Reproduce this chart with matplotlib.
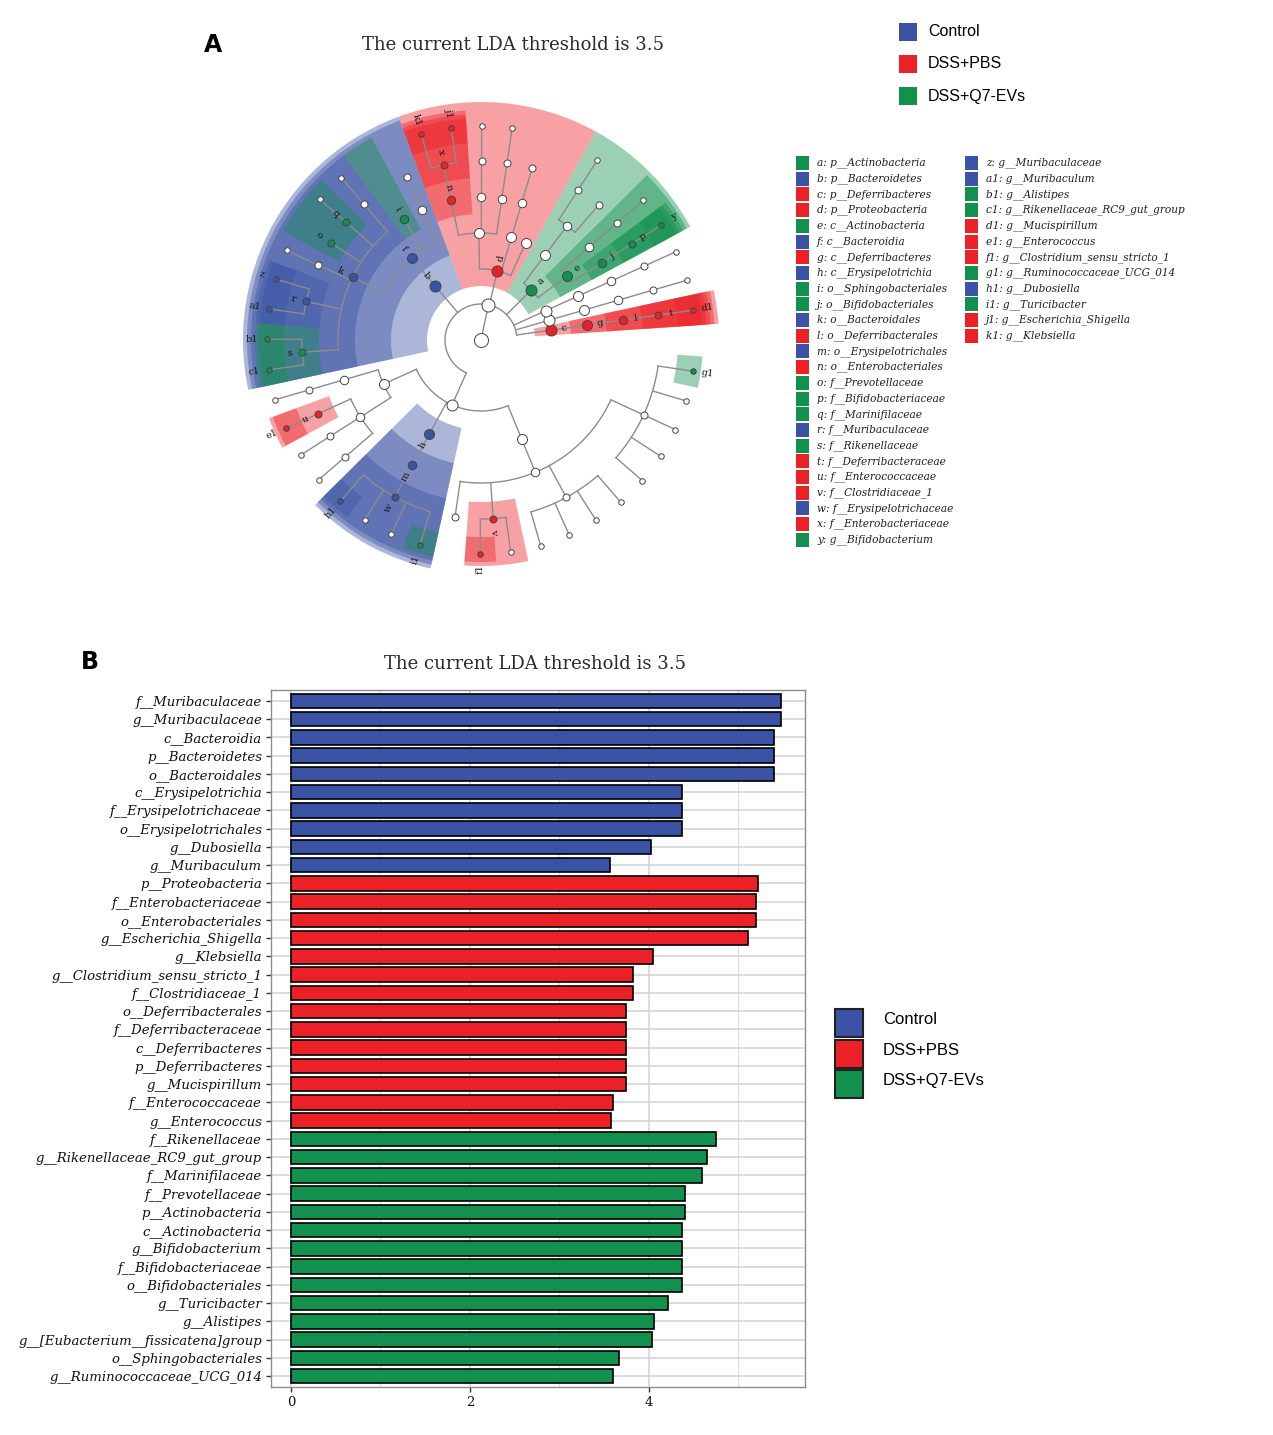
import numpy as np
import matplotlib.pyplot as plt
from matplotlib.patches import Wedge, Rectangle

W, H = 1273, 1435

group_names = ['Control', 'DSS+PBS', 'DSS+Q7-EVs']
group_colors = ['#3a53a4', '#ec2127', '#11904e']

# ---- panel B: LDA scores
bar_taxa = [
    'f__Muribaculaceae', 'g__Muribaculaceae', 'c__Bacteroidia', 'p__Bacteroidetes',
    'o__Bacteroidales', 'c__Erysipelotrichia', 'f__Erysipelotrichaceae',
    'o__Erysipelotrichales', 'g__Dubosiella', 'g__Muribaculum',
    'p__Proteobacteria', 'f__Enterobacteriaceae', 'o__Enterobacteriales',
    'g__Escherichia_Shigella', 'g__Klebsiella', 'g__Clostridium_sensu_stricto_1',
    'f__Clostridiaceae_1', 'o__Deferribacterales', 'f__Deferribacteraceae',
    'c__Deferribacteres', 'p__Deferribacteres', 'g__Mucispirillum',
    'f__Enterococcaceae', 'g__Enterococcus',
    'f__Rikenellaceae', 'g__Rikenellaceae_RC9_gut_group', 'f__Marinifilaceae',
    'f__Prevotellaceae', 'p__Actinobacteria', 'c__Actinobacteria',
    'g__Bifidobacterium', 'f__Bifidobacteriaceae', 'o__Bifidobacteriales',
    'g__Turicibacter', 'g__Alistipes', 'g__[Eubacterium__fissicatena]group',
    'o__Sphingobacteriales', 'g__Ruminococcaceae_UCG_014',
]
bar_lda = [5.48, 5.47, 5.40, 5.40, 5.40, 4.37, 4.37, 4.37, 4.02, 3.56,
           5.22, 5.19, 5.19, 5.11, 4.05, 3.82, 3.82, 3.74, 3.74, 3.74, 3.74, 3.74, 3.60, 3.58,
           4.75, 4.65, 4.59, 4.40, 4.40, 4.37, 4.37, 4.37, 4.37, 4.21, 4.06, 4.03, 3.66, 3.60]
bar_group = [0] * 10 + [1] * 14 + [2] * 14

# ---- panel A: cladogram key
clade_letters = ['a', 'b', 'c', 'd', 'e', 'f', 'g', 'h', 'i', 'j', 'k', 'l', 'm',
                 'n', 'o', 'p', 'q', 'r', 's', 't', 'u', 'v', 'w', 'x', 'y',
                 'z', 'a1', 'b1', 'c1', 'd1', 'e1', 'f1', 'g1', 'h1', 'i1', 'j1', 'k1']
clade_taxa = ['p__Actinobacteria', 'p__Bacteroidetes', 'p__Deferribacteres',
              'p__Proteobacteria', 'c__Actinobacteria', 'c__Bacteroidia',
              'c__Deferribacteres', 'c__Erysipelotrichia', 'o__Sphingobacteriales',
              'o__Bifidobacteriales', 'o__Bacteroidales', 'o__Deferribacterales',
              'o__Erysipelotrichales', 'o__Enterobacteriales', 'f__Prevotellaceae',
              'f__Bifidobacteriaceae', 'f__Marinifilaceae', 'f__Muribaculaceae',
              'f__Rikenellaceae', 'f__Deferribacteraceae', 'f__Enterococcaceae',
              'f__Clostridiaceae_1', 'f__Erysipelotrichaceae', 'f__Enterobacteriaceae',
              'g__Bifidobacterium', 'g__Muribaculaceae', 'g__Muribaculum',
              'g__Alistipes', 'g__Rikenellaceae_RC9_gut_group', 'g__Mucispirillum',
              'g__Enterococcus', 'g__Clostridium_sensu_stricto_1',
              'g__Ruminococcaceae_UCG_014', 'g__Dubosiella', 'g__Turicibacter',
              'g__Escherichia_Shigella', 'g__Klebsiella']
clade_group = [2, 0, 1, 1, 2, 0, 1, 0, 2, 2, 0, 1, 0, 1, 2, 2, 2, 0, 2, 1, 1, 1, 0, 1, 2,
               0, 0, 2, 2, 1, 1, 1, 2, 0, 2, 1, 1]

# tree per phylum: [letter, child, child, ...], '' = not discriminant
tree_deferribacteres = ['c', ['g', ['l', ['t', ['d1']]]]]
tree_other1 = ['', ['', ['', ['', ['']]]]]
tree_other2 = ['', ['', ['', ['', ['']]]]]
tree_actinobacteria = ['a',
                       ['e', ['j', ['p', ['y']]], ['', ['', ['']]]],
                       ['', ['', [''], ['', ['']]]]]
tree_proteobacteria = ['d',
                       [''],
                       ['', ['', ['']]],
                       ['', ['', ['', ['']]], ['', ['', ['']]],
                        ['n', ['x', ['j1'], ['k1']]]]]
tree_bacteroidetes = ['b',
                      ['f', ['', ['']], ['i'],
                       ['k', ['', ['']], ['q', ['']], ['o'], ['', ['']],
                        ['r', ['z'], ['a1']], ['s', ['b1'], ['c1']]]]]
tree_firmicutes = ['',
                   ['', ['', ['', ['']]],
                    ['', ['u', ['e1']], ['', ['']], ['', ['']]]],
                   ['h', ['m', ['w', ['h1'], [''], [''], ['i1']]]],
                   ['', ['', [''], ['v', ['f1'], ['']],
                         ['', [''], [''], [''], ['']],
                         ['', [''], [''], [''], [''], ['g1']]]]]

phyla = [tree_deferribacteres, tree_other1, tree_other2, tree_actinobacteria,
         tree_proteobacteria, tree_bacteroidetes, tree_firmicutes]

# ---- layout of the cladogram
START, STEP = 8.0, 360 / 44
RADII = [0, 36, 71, 107, 143, 179, 214]
nodes = []
links = []


def place(node, depth, slot):
    kids = node[1:]
    if not kids:
        ang = START + slot[0] * STEP
        slot[0] += 1
        lo = hi = ang
    else:
        res = [place(k, depth + 1, slot) for k in kids]
        angs = [r[0] for r in res]
        ang = float(np.mean(angs))
        lo, hi = res[0][1], res[-1][2]
        links.append((depth, angs))
    nodes.append((node[0], depth, ang, lo, hi))
    return ang, lo, hi


place(['', ['', *phyla]], 0, [0])


def fx(px):
    return px / W


def fy(py):
    return 1 - py / H


def polar(r, a):
    t = np.deg2rad(a)
    return r * np.cos(t), r * np.sin(t)


fig = plt.figure(figsize=(W / 100, H / 100), dpi=100)

# ================= panel A
axa = fig.add_axes([fx(481 - 250), fy(340 + 250), 500 / W, 500 / H])
axa.set_xlim(-250, 250)
axa.set_ylim(-250, 250)
axa.axis('off')

for letter, depth, ang, lo, hi in sorted(nodes, key=lambda n: n[1]):
    if not letter:
        continue
    col = group_colors[clade_group[clade_letters.index(letter)]]
    r_in = RADII[depth] - 17
    r_out = 238 - (depth - 2) * 4
    axa.add_patch(Wedge((0, 0), r_out, lo - STEP / 2, hi + STEP / 2,
                        width=r_out - r_in, facecolor=col, alpha=0.42,
                        lw=0, zorder=1))

for depth, angs in links:
    r0, r1 = RADII[depth], RADII[depth + 1]
    if len(angs) > 1:
        t = np.linspace(min(angs), max(angs), 80)
        xs, ys = polar(r0, t)
        axa.plot(xs, ys, color='#8c8c8c', lw=1.0, zorder=2)
    for a in angs:
        xs, ys = polar(np.array([r0, r1]), a)
        axa.plot(xs, ys, color='#8c8c8c', lw=1.0, zorder=2)

node_diam = [14, 13, 11, 10, 8.5, 7, 5.5]
for letter, depth, ang, lo, hi in nodes:
    x, y = polar(RADII[depth], ang)
    fc = 'white'
    if letter:
        fc = group_colors[clade_group[clade_letters.index(letter)]]
    axa.plot(x, y, 'o', ms=node_diam[depth] * 0.72, mfc=fc, mec='#444444',
             mew=0.7, zorder=3)
    if letter:
        r_lab = 229 if depth == 6 else RADII[depth] + 13
        lx, ly = polar(r_lab, ang)
        rot = ang if np.cos(np.deg2rad(ang)) >= 0 else ang - 180
        axa.text(lx, ly, letter, fontsize=7, family='DejaVu Serif',
                 rotation=rot, rotation_mode='anchor', ha='center',
                 va='center', zorder=4, color='#1a1a1a')

fig.text(fx(213), fy(45), 'A', fontsize=17, fontweight='bold', ha='center', va='center')
fig.text(fx(513), fy(45), 'The current LDA threshold is 3.5', family='DejaVu Serif',
         fontsize=13, ha='center', va='center', color='#2a2a2a')

for i, name in enumerate(group_names):
    yc = 32 + i * 32
    fig.patches.append(Rectangle((fx(899), fy(yc + 9)), 18 / W, 18 / H,
                                 transform=fig.transFigure, facecolor=group_colors[i],
                                 edgecolor='none'))
    fig.text(fx(928), fy(yc), name, family='Liberation Sans', fontsize=11.5,
             ha='left', va='center')

for i, (let, tax, g) in enumerate(zip(clade_letters, clade_taxa, clade_group)):
    col, row = (0, i) if i < 25 else (1, i - 25)
    x0 = 796 if col == 0 else 965
    yc = 163 + row * 15.7
    fig.patches.append(Rectangle((fx(x0), fy(yc + 7)), 13 / W, 14 / H,
                                 transform=fig.transFigure, facecolor=group_colors[g],
                                 edgecolor='none'))
    fig.text(fx(x0 + 21), fy(yc), f'{let}: {tax}', family='DejaVu Serif',
             style='italic', fontsize=7.6, ha='left', va='center', color='#1f1f1f')

# ================= panel B
axb = fig.add_axes([fx(271), fy(1387), (805 - 271) / W, (1387 - 690) / H])
ypos = np.arange(len(bar_taxa))
axb.barh(ypos, bar_lda, height=0.8, color=[group_colors[g] for g in bar_group],
         edgecolor='black', linewidth=1.2, zorder=3)
axb.set_ylim(len(bar_taxa) - 0.4, -0.6)
axb.set_xlim(-0.223, 5.743)
axb.set_yticks(ypos)
axb.set_yticklabels(bar_taxa, family='DejaVu Serif', style='italic', fontsize=9.5)
axb.set_xticks([0, 2, 4])
axb.set_xticks([1, 3, 5], minor=True)
axb.set_xticklabels(['0', '2', '4'], family='DejaVu Serif', fontsize=9.5)
axb.grid(which='major', color='#d2d2d2', lw=1.1, zorder=0)
axb.grid(which='minor', axis='x', color='#dedede', lw=0.9, zorder=0)
axb.set_axisbelow(True)
axb.tick_params(which='major', length=3.5, width=1, color='#333333',
                labelcolor='#111111', pad=3)
axb.tick_params(which='minor', length=0)
for sp in axb.spines.values():
    sp.set_color('#8c8c8c')
    sp.set_linewidth(1.0)

fig.text(fx(90), fy(662), 'B', fontsize=17, fontweight='bold', ha='center', va='center')
fig.text(fx(535), fy(664), 'The current LDA threshold is 3.5', family='DejaVu Serif',
         fontsize=13, ha='center', va='center', color='#2a2a2a')

for i, name in enumerate(group_names):
    yt = 1009 + i * 30.5
    fig.patches.append(Rectangle((fx(835), fy(yt + 28)), 28 / W, 28 / H,
                                 transform=fig.transFigure, facecolor=group_colors[i],
                                 edgecolor='#222222', lw=1.5))
    fig.text(fx(883), fy(yt + 11), name, family='Liberation Sans', fontsize=12,
             ha='left', va='center')

fig.savefig('out.png', dpi=100)
